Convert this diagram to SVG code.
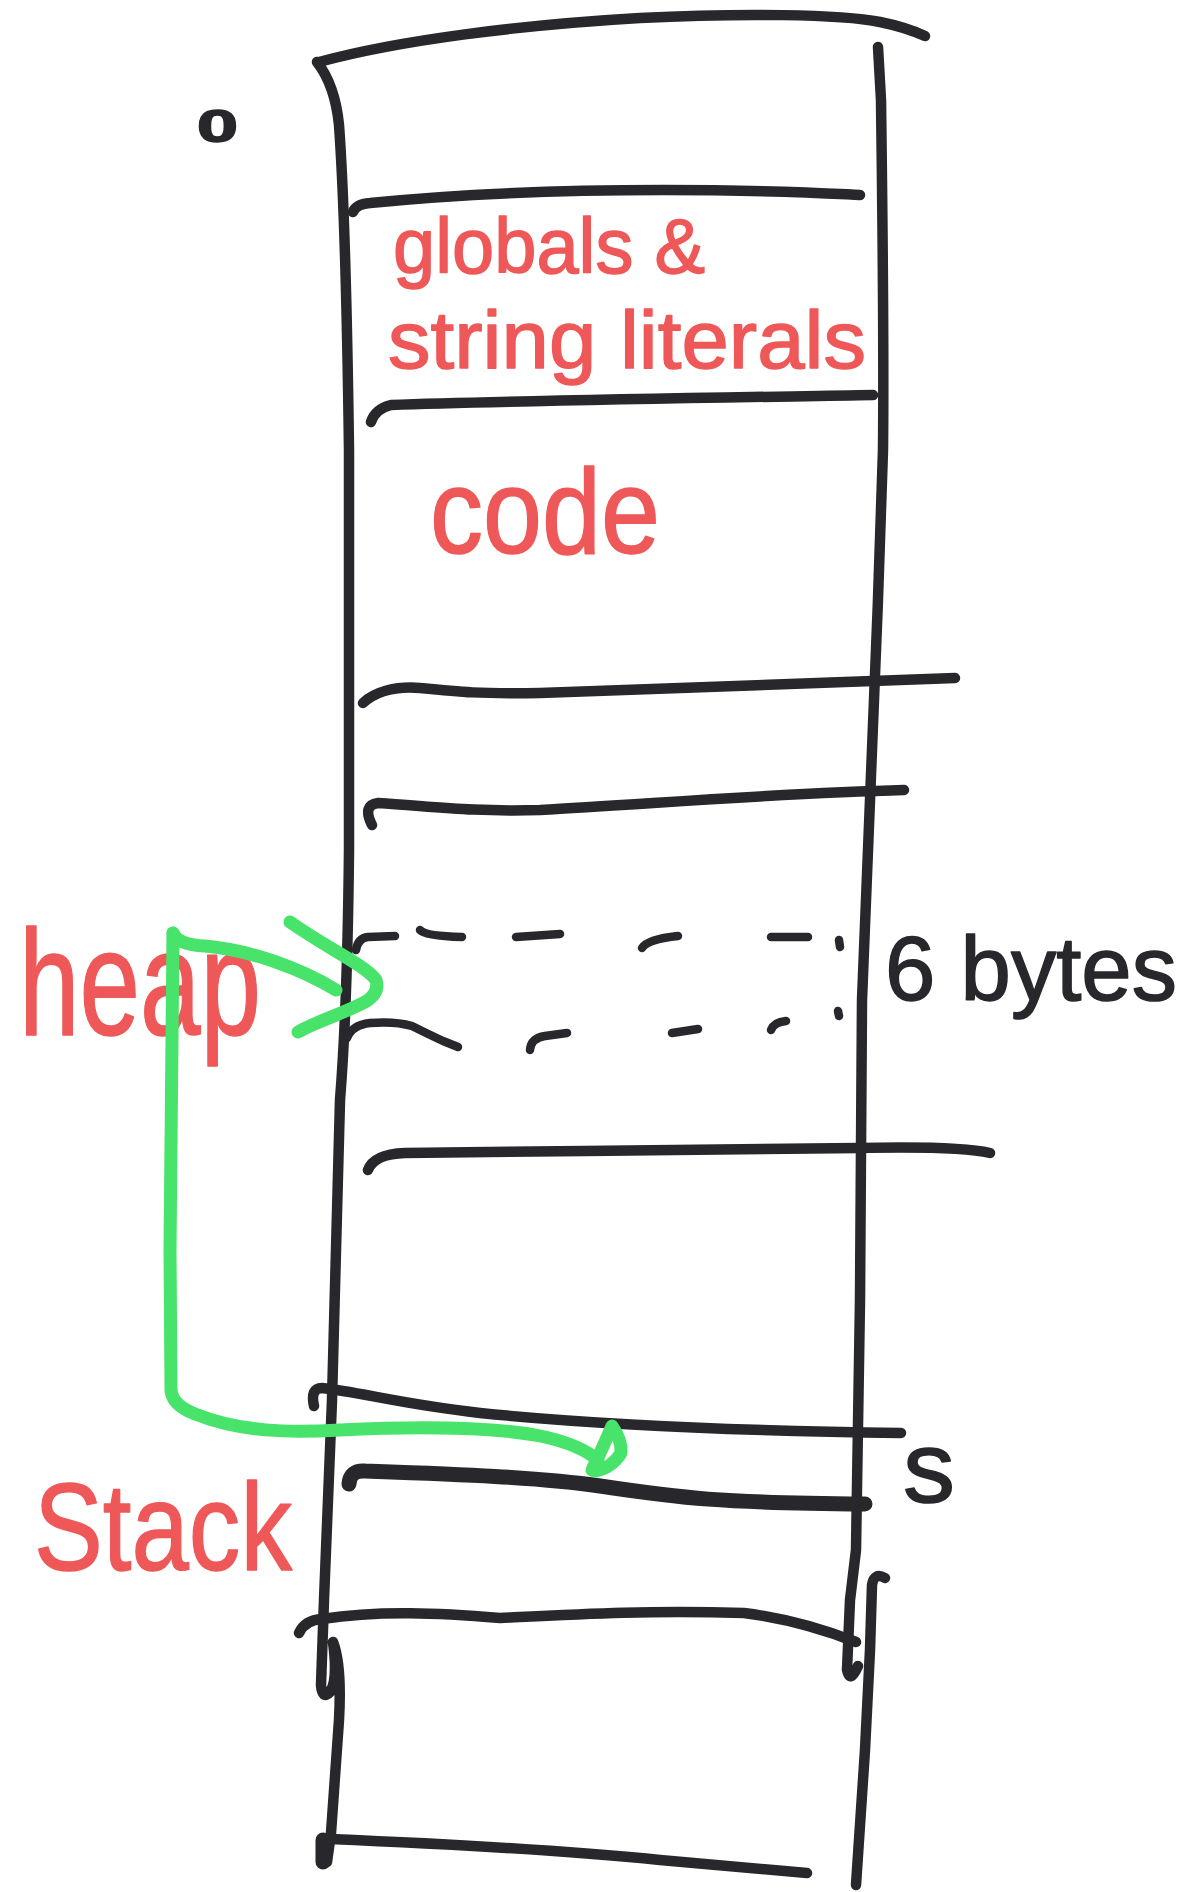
<svg xmlns="http://www.w3.org/2000/svg" width="1191" height="1892" viewBox="0 0 1191 1892">
  <style>
    .ink { fill: none; stroke: #27272c; stroke-width: 10.5; stroke-linecap: round; stroke-linejoin: round; }
    .dash { fill: none; stroke: #27272c; stroke-width: 8.5; stroke-linecap: round; stroke-linejoin: round; }
    .thick { fill: none; stroke: #27272c; stroke-width: 15; stroke-linecap: round; stroke-linejoin: round; }
    .red { fill: #ef5858; stroke: #ef5858; stroke-width: 1.5; stroke-linejoin: round; font-family: "Liberation Sans", Arial, sans-serif; }
    .blk { fill: #27272c; stroke: #27272c; stroke-width: 1.5; stroke-linejoin: round; font-family: "Liberation Sans", Arial, sans-serif; }
    .green { fill: none; stroke: #47e36b; stroke-width: 13; stroke-linecap: round; stroke-linejoin: round; }
  </style>

  <rect width="1191" height="1892" fill="#ffffff"/>

  <!-- address zero -->
  <g id="address-zero">
    <text class="blk" x="197" y="142" font-size="46" font-weight="bold" textLength="41" lengthAdjust="spacingAndGlyphs">0</text>
  </g>

  <!-- outer column of the memory layout -->
  <g id="memory-column">
    <path class="ink" d="M319,62 C400,40 520,25 640,18 C740,13 840,14 880,22 Q905,27 925,36"/>
    <path class="ink" d="M317,62 Q335,85 339,125 C343,180 347,300 349,450 L349,850 C348,950 344,1050 340,1100 L332,1400 L324,1600 L321,1685 Q322,1700 330,1692 Q338,1680 333,1642 Q342,1665 339,1720 L331,1833 L327,1862"/>
    <path class="thick" d="M323,1840 L323,1862"/>
    <path class="ink" d="M878,47 L881,100 C883,250 884,350 883,450 C880,560 874,700 870,800 L862,1000 L860,1300 L856,1550 L850,1600 L847,1670 Q850,1684 858,1666"/>
    <path class="ink" d="M885,1578 Q874,1572 872,1585 L870,1650 L865,1750 L856,1885"/>
  </g>

  <!-- segment boundaries -->
  <g id="dividers">
    <path class="ink" d="M353,212 Q356,204 370,203 C450,195 550,190 663,190 S820,193 860,195"/>
    <path class="ink" d="M371,422 Q375,409 391,405 C500,401 700,398 873,395"/>
    <path class="ink" d="M363,703 C375,692 395,686 420,688 C460,692 480,694 540,693 C650,690 780,684 955,678"/>
    <path class="ink" d="M372,825 Q362,805 378,803 C430,806 470,812 540,810 C650,804 780,793 904,790"/>
    <path class="ink" d="M368,1170 Q374,1154 405,1153 C550,1152 750,1148 859,1148 Q960,1146 990,1153"/>
    <path class="ink" d="M314,1406 Q310,1388 322,1388 C360,1392 400,1404 480,1413 C600,1425 750,1431 901,1433"/>
    <path class="thick" d="M349,1484 Q350,1470 365,1471 C450,1474 540,1477 600,1486 C680,1498 720,1503 865,1504"/>
    <path class="ink" d="M299,1633 Q305,1620 322,1619 C380,1610 440,1613 500,1618 C580,1614 650,1610 744,1613 Q800,1620 856,1642"/>
    <path class="ink" d="M330,1839 C450,1844 560,1850 660,1860 L807,1873"/>
  </g>

  <!-- the 6-byte heap block -->
  <g id="heap-block">
    <path class="dash" d="M356,950 Q358,938 368,937 L395,936"/>
    <path class="dash" d="M420,930 Q425,936 462,937"/>
    <path class="dash" d="M516,937 L560,934"/>
    <path class="dash" d="M642,948 Q648,939 678,936"/>
    <path class="dash" d="M771,937 L808,937"/>
    <path class="dash" d="M839,940 L840,947"/>
    <path class="dash" d="M347,1038 Q352,1025 370,1023 Q395,1021 412,1026 Q430,1035 443,1041 L458,1047"/>
    <path class="dash" d="M530,1050 Q531,1038 545,1036 L567,1033"/>
    <path class="dash" d="M672,1033 L698,1029"/>
    <path class="dash" d="M771,1030 Q774,1022 786,1021"/>
    <path class="dash" d="M838,1011 L839,1016"/>
    <text class="blk" x="885" y="1000" font-size="90" stroke-width="3" textLength="292" lengthAdjust="spacingAndGlyphs">6 bytes</text>
  </g>

  <!-- segment labels -->
  <g id="label-globals">
    <text class="red" x="393" y="273" font-size="78" textLength="312" lengthAdjust="spacingAndGlyphs">globals &amp;</text>
    <text class="red" x="388" y="368" font-size="82" textLength="478" lengthAdjust="spacingAndGlyphs">string literals</text>
  </g>
  <g id="label-code">
    <text class="red" x="430" y="553" font-size="120" stroke-width="3" textLength="230" lengthAdjust="spacingAndGlyphs">code</text>
  </g>
  <g id="label-heap">
    <text class="red" x="19" y="1035" font-size="150" textLength="242" lengthAdjust="spacingAndGlyphs">heap</text>
  </g>
  <g id="label-stack">
    <text class="red" x="34" y="1570" font-size="125" textLength="258" lengthAdjust="spacingAndGlyphs">Stack</text>
  </g>
  <g id="label-s">
    <text class="blk" x="903" y="1502" font-size="100" stroke-width="5" textLength="52" lengthAdjust="spacingAndGlyphs">s</text>
  </g>

  <!-- pointer from s on the stack to the heap block -->
  <g id="connectors">
    <path class="green" d="M173,933 Q178,945 205,946 C250,950 300,968 336,990"/>
    <path class="green" d="M290,922 C330,950 365,965 376,980 Q380,993 365,1002 C340,1015 315,1022 298,1032"/>
    <path class="green" d="M173,933 L170,1250 L171,1390 Q172,1405 195,1414 C240,1432 290,1433 340,1430 C420,1426 500,1427 545,1437 Q580,1445 598,1460"/>
    <path class="green" fill="#47e36b" d="M592,1470 Q604,1445 612,1426 Q622,1440 621,1453 Q612,1468 595,1471 Z"/>
  </g>
</svg>
